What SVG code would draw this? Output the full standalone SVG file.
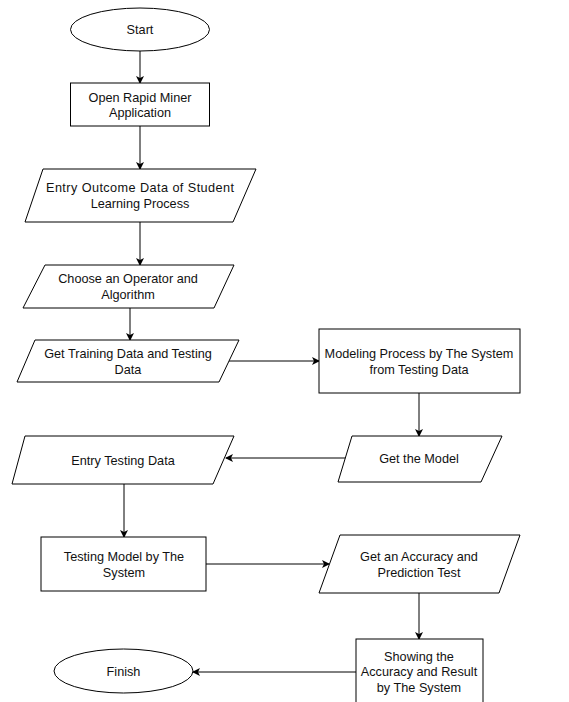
<svg xmlns="http://www.w3.org/2000/svg" width="569" height="702" viewBox="0 0 569 702">
<defs>
<marker id="ah" markerWidth="8" markerHeight="8" refX="7" refY="4" orient="auto" markerUnits="userSpaceOnUse">
<path d="M0,0 L8,4 L0,8 L2,4 Z" fill="#000"/>
</marker>
<style>
.s{fill:#fff;stroke:#000;stroke-width:1}
.t{font-family:"Liberation Sans",Arial,sans-serif;font-size:12.7px;fill:#111;text-anchor:middle}
.c{fill:none;stroke:#000;stroke-width:1;marker-end:url(#ah)}
</style>
</defs>
<rect width="569" height="702" fill="#fff"/>
<g id="connectors">
<path class="c" d="M140,51 V83"/>
<path class="c" d="M140,126 V169"/>
<path class="c" d="M140,222 V265"/>
<path class="c" d="M130,308 V340"/>
<path class="c" d="M229,361 H319"/>
<path class="c" d="M419,393 V436"/>
<path class="c" d="M347,458 H226"/>
<path class="c" d="M124,484 V537"/>
<path class="c" d="M206,564 H329"/>
<path class="c" d="M419,593 V639"/>
<path class="c" d="M356,672 H193"/>
</g>
<g id="start">
<ellipse class="s" cx="140" cy="29.5" rx="69.5" ry="21.5"/>
<text class="t" x="140" y="34">Start</text>
</g>
<g id="open">
<rect class="s" x="70.5" y="83" width="139" height="43"/>
<text class="t" x="140" y="101.5">Open Rapid Miner</text>
<text class="t" x="140" y="117">Application</text>
</g>
<g id="entry-outcome">
<polygon class="s" points="43,169 256,169 233,222 25,222"/>
<text class="t" x="140" y="191.5" textLength="188" lengthAdjust="spacing">Entry Outcome Data of Student</text>
<text class="t" x="140" y="207.5">Learning Process</text>
</g>
<g id="choose">
<polygon class="s" points="45,265 234,265 214,308 23,308"/>
<text class="t" x="128" y="282.5">Choose an Operator and</text>
<text class="t" x="128" y="298.5">Algorithm</text>
</g>
<g id="get-training">
<polygon class="s" points="35,340 239,340 219,382 17,382"/>
<text class="t" x="128" y="357.5">Get Training Data and Testing</text>
<text class="t" x="128" y="373.5">Data</text>
</g>
<g id="modeling">
<rect class="s" x="319" y="329" width="201" height="64"/>
<text class="t" x="419" y="357.5">Modeling Process by The System</text>
<text class="t" x="419" y="373.5">from Testing Data</text>
</g>
<g id="get-model">
<polygon class="s" points="352,436 502,436 481,482 338,482"/>
<text class="t" x="419" y="462.5">Get the Model</text>
</g>
<g id="entry-testing">
<polygon class="s" points="25,436 234,436 213,484 12,484"/>
<text class="t" x="123" y="464.5">Entry Testing Data</text>
</g>
<g id="testing-model">
<rect class="s" x="41" y="537" width="165" height="54"/>
<text class="t" x="124" y="560.5">Testing Model by The</text>
<text class="t" x="124" y="576.5">System</text>
</g>
<g id="get-accuracy">
<polygon class="s" points="340,535 520,535 499,593 319,593"/>
<text class="t" x="419" y="560.5">Get an Accuracy and</text>
<text class="t" x="419" y="576.5">Prediction Test</text>
</g>
<g id="showing">
<rect class="s" x="356" y="639" width="127" height="72"/>
<text class="t" x="419" y="660.5">Showing the</text>
<text class="t" x="419" y="675.5">Accuracy and Result</text>
<text class="t" x="419" y="691.5">by The System</text>
</g>
<g id="finish">
<ellipse class="s" cx="123.5" cy="671" rx="69.5" ry="22"/>
<text class="t" x="123.5" y="675.5">Finish</text>
</g>
</svg>
